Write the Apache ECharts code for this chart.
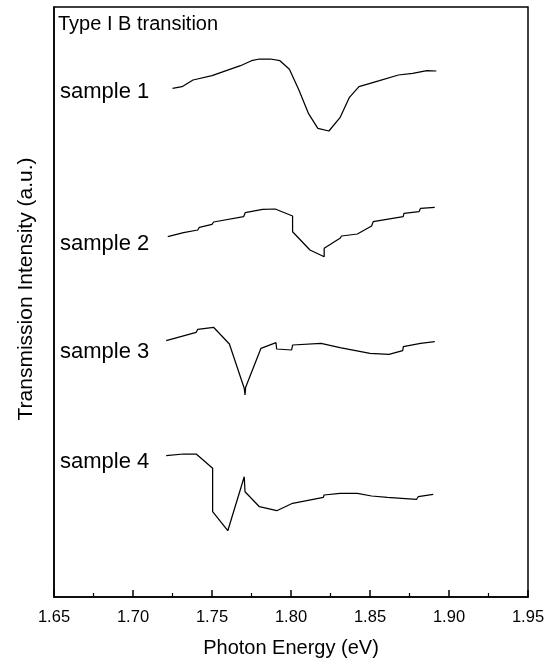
<!DOCTYPE html>
<html>
<head>
<meta charset="utf-8">
<title>Type I B transition</title>
<script src="https://cdn.jsdelivr.net/npm/echarts@6/dist/echarts.min.js"></script>
<style>
  html, body { margin: 0; padding: 0; background: #fff; }
  #chart { width: 549px; height: 663px; }
</style>
</head>
<body>
<div id="chart"></div>
<script>
// photon energy (eV) and transmission (a.u., offset per sample)
var energy1 = [1.725, 1.731, 1.738, 1.750, 1.768, 1.775, 1.780, 1.787, 1.793, 1.799, 1.805, 1.811, 1.817, 1.824, 1.831, 1.837, 1.843, 1.856, 1.868, 1.877, 1.886, 1.892];
var trans1 = [508.7, 510.3, 517, 521.3, 531.3, 536.3, 538, 538, 536.3, 527.7, 507, 483.7, 468.7, 466, 479.3, 499.7, 510.3, 516.3, 522, 523.7, 526.3, 526];

var energy2 = [1.722, 1.732, 1.741, 1.742, 1.750, 1.751, 1.770, 1.771, 1.782, 1.790, 1.801, 1.801, 1.812, 1.821, 1.821, 1.831, 1.832, 1.842, 1.851, 1.852, 1.871, 1.8715, 1.881, 1.882, 1.891];
var trans2 = [360.3, 364.3, 367, 369.7, 372.7, 375, 380.3, 384.3, 387.7, 388, 381, 365.3, 347, 340.3, 348.7, 358.7, 361, 363, 371, 375.3, 380.3, 383.7, 385.3, 388.7, 389.7];

var energy3 = [1.721, 1.740, 1.741, 1.751, 1.761, 1.7704, 1.7709, 1.7713, 1.781, 1.7905, 1.7909, 1.8004, 1.801, 1.819, 1.831, 1.832, 1.850, 1.851, 1.862, 1.8707, 1.8711, 1.882, 1.891];
var trans3 = [256.3, 264.7, 267.7, 269.7, 253, 208.7, 202, 209.7, 248.7, 254.3, 248, 247, 252, 253.7, 249.3, 248, 243.7, 242.7, 242.7, 246.3, 250.3, 253.7, 255.3];

var energy4 = [1.721, 1.732, 1.740, 1.7504, 1.7504, 1.760, 1.7704, 1.7709, 1.780, 1.791, 1.801, 1.8205, 1.8209, 1.831, 1.842, 1.851, 1.861, 1.870, 1.8703, 1.8795, 1.8805, 1.890];
var trans4 = [141.3, 143, 143, 128.7, 85.3, 66.3, 120.3, 105.3, 90.3, 86.3, 93.7, 99.7, 102, 103.7, 103.7, 101, 99.7, 98.7, 97.7, 97.7, 100.3, 102.7];

var sampleNames = ['sample 1', 'sample 2', 'sample 3', 'sample 4'];
var xTicks = [1.65, 1.70, 1.75, 1.80, 1.85, 1.90, 1.95];

var FONT = "'Liberation Sans', Arial, Helvetica, sans-serif";

function pairs(xs, ys) {
  return xs.map(function(x, i) { return [x, ys[i]]; });
}

var curves = [
  pairs(energy1, trans1),
  pairs(energy2, trans2),
  pairs(energy3, trans3),
  pairs(energy4, trans4)
];

var series = curves.map(function(d, i) {
  return {
    name : sampleNames[i],
    type : 'line',
    data : d,
    showSymbol : false,
    symbol : 'none',
    lineStyle : { color : '#000', width : 1.25 },
    animation : false
  };
});

// label y positions (px from top) for each sample
var labelTop = [93, 245, 353, 463];
var graphics = sampleNames.map(function(name, i) {
  return {
    type : 'text',
    left : 60,
    top : labelTop[i] - 12,
    style : { text : name, fontSize : 22, fontFamily : FONT, fill : '#000' }
  };
});
graphics.push({
  type : 'text',
  left : 58,
  top : 14,
  style : { text : 'Type I B transition', fontSize : 20, fontFamily : FONT, fill : '#000' }
});
// y axis title, drawn by hand so it sits where the original has it
graphics.push({
  type : 'text',
  x : 26,
  y : 289,
  rotation : Math.PI / 2,
  style : {
    text : 'Transmission Intensity (a.u.)', fontSize : 21, fontFamily : FONT, fill : '#000',
    align : 'center', verticalAlign : 'middle'
  }
});

var option = {
  backgroundColor : '#fff',
  animation : false,
  grid : {
    left : 54,
    right : 21,
    top : 7,
    bottom : 66,
    show : true,
    borderColor : '#000',
    borderWidth : 1.5
  },
  xAxis : {
    type : 'value',
    min : xTicks[0],
    max : xTicks[xTicks.length - 1],
    interval : 0.05,
    name : 'Photon Energy (eV)',
    nameLocation : 'middle',
    nameGap : 41,
    nameTextStyle : { fontSize : 20, fontFamily : FONT, color : '#000' },
    axisLine : { lineStyle : { color : '#000', width : 1.5 } },
    axisTick : { inside : true, length : 7, lineStyle : { color : '#000', width : 1.5 } },
    minorTick : { show : true, splitNumber : 2, length : 4, lineStyle : { color : '#000', width : 1.2 } },
    axisLabel : {
      fontSize : 16.5, fontFamily : FONT, color : '#000', margin : 12,
      formatter : function(v) { return v.toFixed(2); }
    },
    splitLine : { show : false }
  },
  yAxis : {
    type : 'value',
    min : 0,
    max : 590,
    axisLine : { show : true, lineStyle : { color : '#000', width : 1.5 } },
    axisTick : { show : false },
    axisLabel : { show : false },
    splitLine : { show : false }
  },
  graphic : graphics,
  series : series
};

var myChart = echarts.init(document.getElementById('chart'));
myChart.setOption(option);
</script>
</body>
</html>
